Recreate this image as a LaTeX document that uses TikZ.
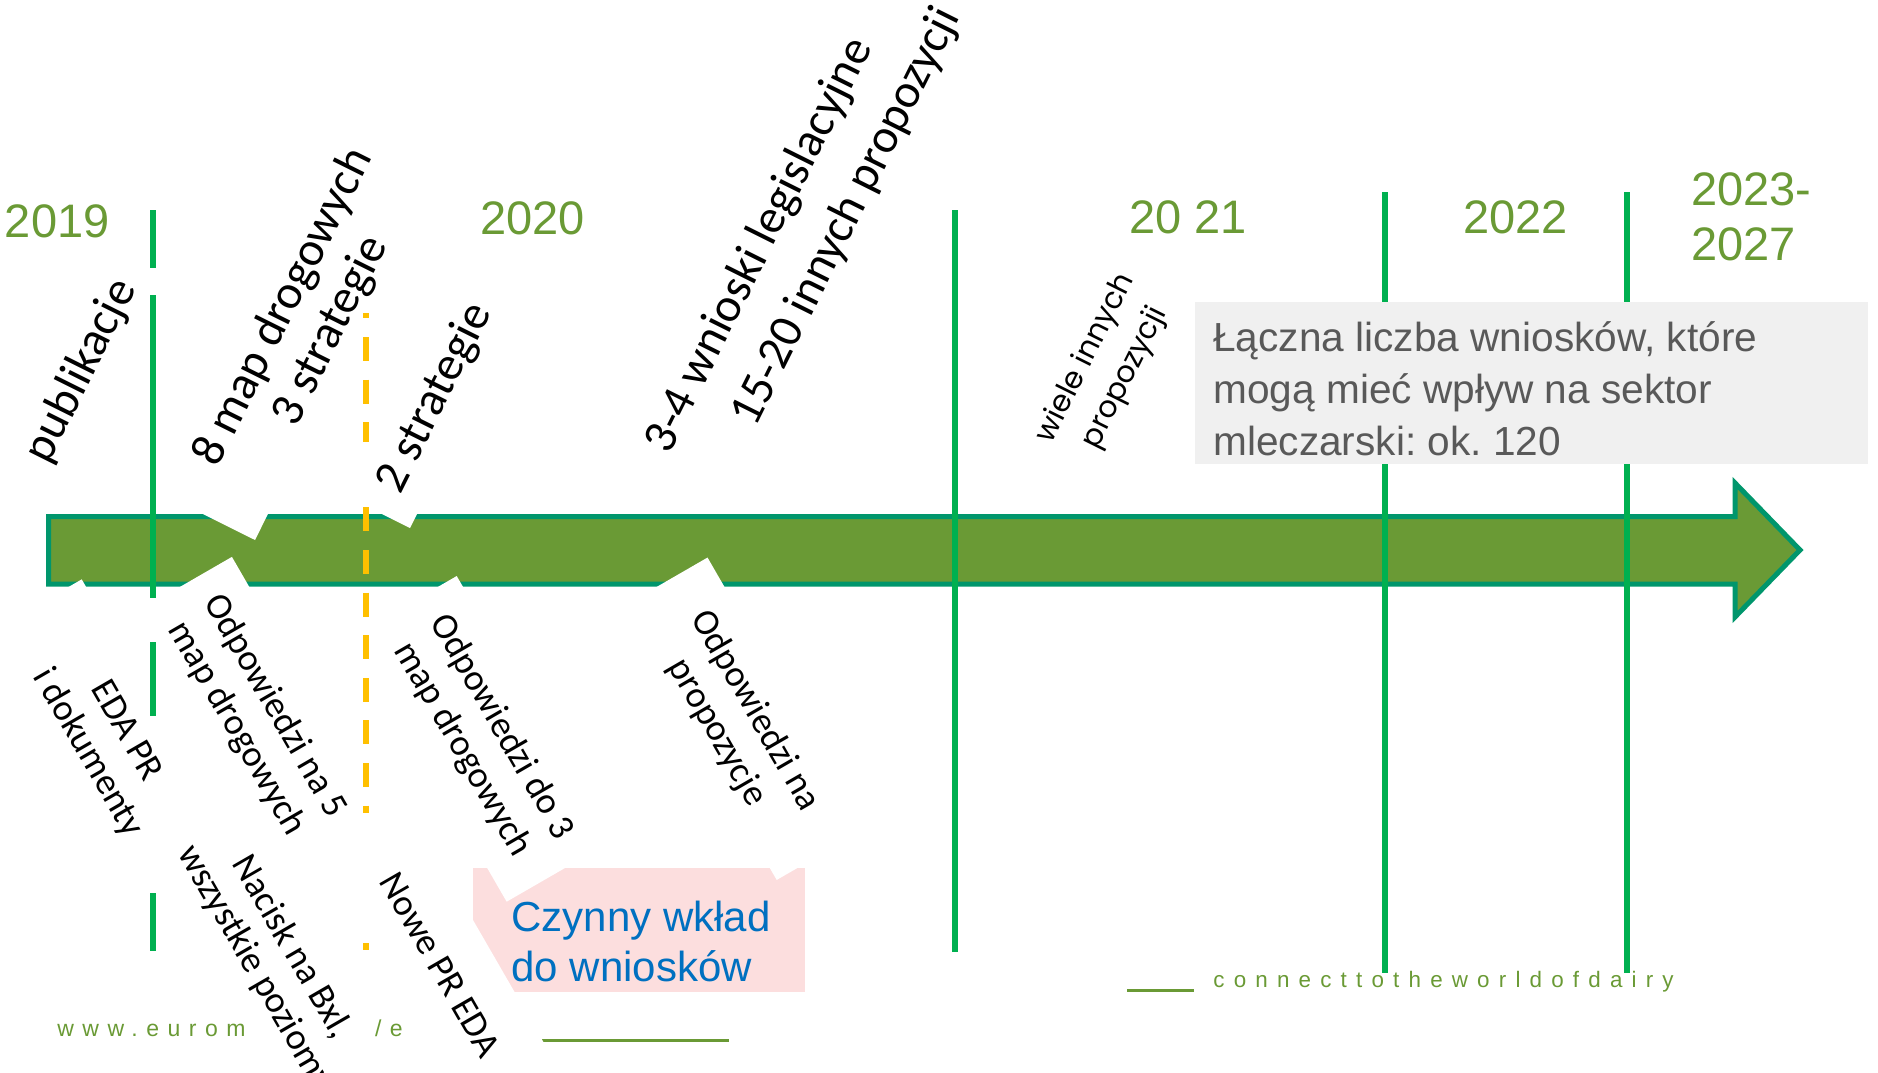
\documentclass[tikz,border=0pt]{standalone}
\usepackage{fontspec}
\setmainfont{Liberation Sans}
\newfontfamily\carlito{Carlito}
\newfontfamily\arialf{Liberation Sans}
\newfontfamily\urlfont[LetterSpace=37]{Liberation Sans}
\newfontfamily\slogfont[LetterSpace=41]{Liberation Sans}
\newfontfamily\geofont{Poppins}
\definecolor{arrowfill}{RGB}{106,154,53}
\definecolor{arrowedge}{RGB}{0,150,108}
\definecolor{vgreen}{RGB}{0,176,80}
\definecolor{yeargreen}{RGB}{106,154,53}
\definecolor{yellowline}{RGB}{255,192,0}
\definecolor{graybg}{RGB}{240,240,240}
\definecolor{graytxt}{RGB}{89,89,89}
\definecolor{pinkbg}{RGB}{252,222,222}
\definecolor{bluetxt}{RGB}{0,112,192}
\pgfdeclarelayer{base}
\pgfdeclarelayer{occ}
\pgfsetlayers{base,occ,main}
\tikzset{
  toptxt/.style={font=\carlito\fontsize{24}{29}\selectfont, inner sep=0pt, anchor=base},
  toptxtl/.style={font=\carlito\fontsize{24}{29}\selectfont, inner sep=0pt, anchor=base west},
  bottxt/.style={font=\carlito\fontsize{18.5}{22}\selectfont, inner sep=0pt, anchor=base},
  geotxt/.style={font=\geofont\fontsize{15}{18}\selectfont, inner sep=0pt, anchor=base},
  yeartxt/.style={font=\arialf\fontsize{23.5}{28}\selectfont, text=yeargreen, inner sep=0pt, anchor=base west},
  graytxtst/.style={font=\arialf\fontsize{20.3}{24}\selectfont, text=graytxt, inner sep=0pt, anchor=base west},
  bluetxtst/.style={font=\arialf\fontsize{21}{25}\selectfont, text=bluetxt, inner sep=0pt, anchor=base west},
  urltxt/.style={font=\urlfont\fontsize{11.5}{14}\selectfont, text=yeargreen, inner sep=0pt, anchor=base west},
  slogtxt/.style={font=\slogfont\fontsize{11.2}{14}\selectfont, text=yeargreen, inner sep=0pt, anchor=base west},
  footline/.style={draw=yeargreen, line width=1.3pt},
  occluder/.style={fill=white},
  vline/.style={draw=vgreen, line width=3pt},
  yline/.style={draw=yellowline, line width=3pt, dash pattern=on 12pt off 9.3pt},
  arrowst/.style={fill=arrowfill, draw=arrowedge, line width=2.5pt},
  upframe/.style={rotate=63.5, x=0.5pt, y=0.5pt, transform shape},
  downframe/.style={rotate=-60, x=0.5pt, y=0.5pt, transform shape}
}
\begin{document}
\frenchspacing
\begin{tikzpicture}[x=0.5pt,y=-0.5pt]
\useasboundingbox (0,0) rectangle (1878,1072);

\begin{pgfonlayer}{base}
  % timeline arrow
  \draw[arrowst] (48.5,516.5) -- (1735,516.5) -- (1735,483) -- (1800,550) -- (1735,617) -- (1735,584) -- (48.5,584) -- cycle;
  % year separators
  \draw[vline] (955,210) -- (955,952);
  \draw[vline] (1385,192) -- (1385,973);
  \draw[vline] (1627,192) -- (1627,973);
  % summary box
  \fill[graybg] (1195,302) rectangle (1868,464);
  \node[graytxtst] (sum1) at (1213,351.7) {Łączna liczba wniosków, które};
  \node[graytxtst] (sum2) at (1213,403.3) {mogą mieć wpływ na sektor};
  \node[graytxtst] (sum3) at (1213,455) {mleczarski: ok. 120};
  % pink box
  \fill[pinkbg] (473,868) rectangle (805,992);
  % footer
  \node[urltxt] (url) at (57,1036) {www.euromilk.org/eda};
  \draw[footline] (539,1040.5) -- (729,1040.5);
  \draw[footline] (1127,990.5) -- (1194,990.5);
  \node[slogtxt] (slogan) at (1213,987) {connecttotheworldofdairy};
\end{pgfonlayer}

% years
\node[yeartxt] (y2019) at (4.5,237.3) {2019};
\node[yeartxt] (y2020) at (480,234.4) {2020};
\node[yeartxt] (y2021) at (1129,233.3) {20 21};
\node[yeartxt] (y2022) at (1463,233.3) {2022};
\node[yeartxt] (y2023) at (1691,205) {2023-};
\node[yeartxt] (y2027) at (1691,260) {2027};

% ---- upper labels ----
\begin{scope}[shift={(92.7,376.8)}, upframe]
  \begin{pgfonlayer}{occ}\fill[occluder] (-128,-19) rectangle (128,43);\end{pgfonlayer}
  \node[toptxt] (publ) at (0,0) {publikacje};
\end{scope}
\begin{scope}[shift={(295,313)}, upframe]
  \begin{pgfonlayer}{occ}\fill[occluder] (-221,-65.5) rectangle (221,44);\end{pgfonlayer}
  \node[toptxt] (maps8) at (0,0) {8 map drogowych};
  \node[toptxt] (str3) at (0,-53) {3 strategie};
\end{scope}
\begin{scope}[shift={(446.2,403.5)}, upframe]
  \begin{pgfonlayer}{occ}\fill[occluder] (-127.6,-23.2) rectangle (127.6,43);\end{pgfonlayer}
  \node[toptxt] (str2) at (0,0) {2 strategie};
\end{scope}
\begin{scope}[shift={(669,456)}, upframe]
  \begin{pgfonlayer}{occ}\fill[occluder] (-14,-84) rectangle (541,43);\end{pgfonlayer}
  \node[toptxtl] (leg) at (0,0) {3-4 wnioski legislacyjne};
  \node[toptxtl] (other) at (63,-65) {15-20 innych propozycji};
\end{scope}
\begin{scope}[shift={(1092.8,361.6)}, upframe]
  \begin{pgfonlayer}{occ}\fill[occluder] (-110,-60) rectangle (110,35);\end{pgfonlayer}
  \node[geotxt] (many1) at (0,0) {wiele innych};
  \node[geotxt] (many2) at (0,-44) {propozycji};
\end{scope}

% ---- lower labels ----
\begin{scope}[shift={(117.5,735.7)}, downframe]
  \begin{pgfonlayer}{occ}\fill[occluder] (-153.3,-60) rectangle (153.3,47.2);\end{pgfonlayer}
  \node[bottxt] (eda1) at (0,0) {EDA PR};
  \node[bottxt] (eda2) at (0,-44) {i dokumenty};
\end{scope}
\begin{scope}[shift={(266.3,711.4)}, downframe]
  \begin{pgfonlayer}{occ}\fill[occluder] (-151,-63.4) rectangle (151,47.5);\end{pgfonlayer}
  \node[bottxt] (ans5a) at (0,0) {Odpowiedzi na 5};
  \node[bottxt] (ans5b) at (0,-44) {map drogowych};
\end{scope}
\begin{scope}[shift={(283,952.1)}, downframe]
  \begin{pgfonlayer}{occ}\fill[occluder] (-160,-66.5) rectangle (160,37.4);\end{pgfonlayer}
  \node[bottxt] (bxl1) at (0,0) {Nacisk na Bxl,};
  \node[bottxt] (bxl2) at (0,-42) {wszystkie poziomy};
\end{scope}
\begin{scope}[shift={(493.1,731.8)}, downframe]
  \begin{pgfonlayer}{occ}\fill[occluder] (-153.1,-73.2) rectangle (153.9,46.4);\end{pgfonlayer}
  \node[bottxt] (ans3a) at (0,0) {Odpowiedzi do 3};
  \node[bottxt] (ans3b) at (0,-45) {map drogowych};
\end{scope}
\begin{scope}[shift={(746.7,715.4)}, downframe]
  \begin{pgfonlayer}{occ}\fill[occluder] (-156.3,-56.3) rectangle (157.5,45);\end{pgfonlayer}
  \node[bottxt] (ansp1) at (0,0) {Odpowiedzi na};
  \node[bottxt] (ansp2) at (0,-44) {propozycje};
\end{scope}
\begin{scope}[shift={(430.1,970.7)}, downframe]
  \begin{pgfonlayer}{occ}\fill[occluder] (-137,-50.5) rectangle (133,62.5);\end{pgfonlayer}
  \node[bottxt] (newpr) at (0,0) {Nowe PR EDA};
\end{scope}

% pink box text
\node[bluetxtst] (act1) at (511,931.7) {Czynny wkład};
\node[bluetxtst] (act2) at (511,981.7) {do wniosków};

% first separator (visible pieces)
\draw[vline] (153,210) -- (153,268);
\draw[vline] (153,295) -- (153,598);
\draw[vline] (153,642) -- (153,716);
\draw[vline] (153,893) -- (153,951);
% dashed yellow separator (visible pieces)
\draw[yline, dash phase=9.3pt] (366,313) -- (366,442);
\draw[yline, dash phase=20.1pt] (366,505) -- (366,813);
\draw[yline] (366,943) -- (366,950);
\end{tikzpicture}
\end{document}
